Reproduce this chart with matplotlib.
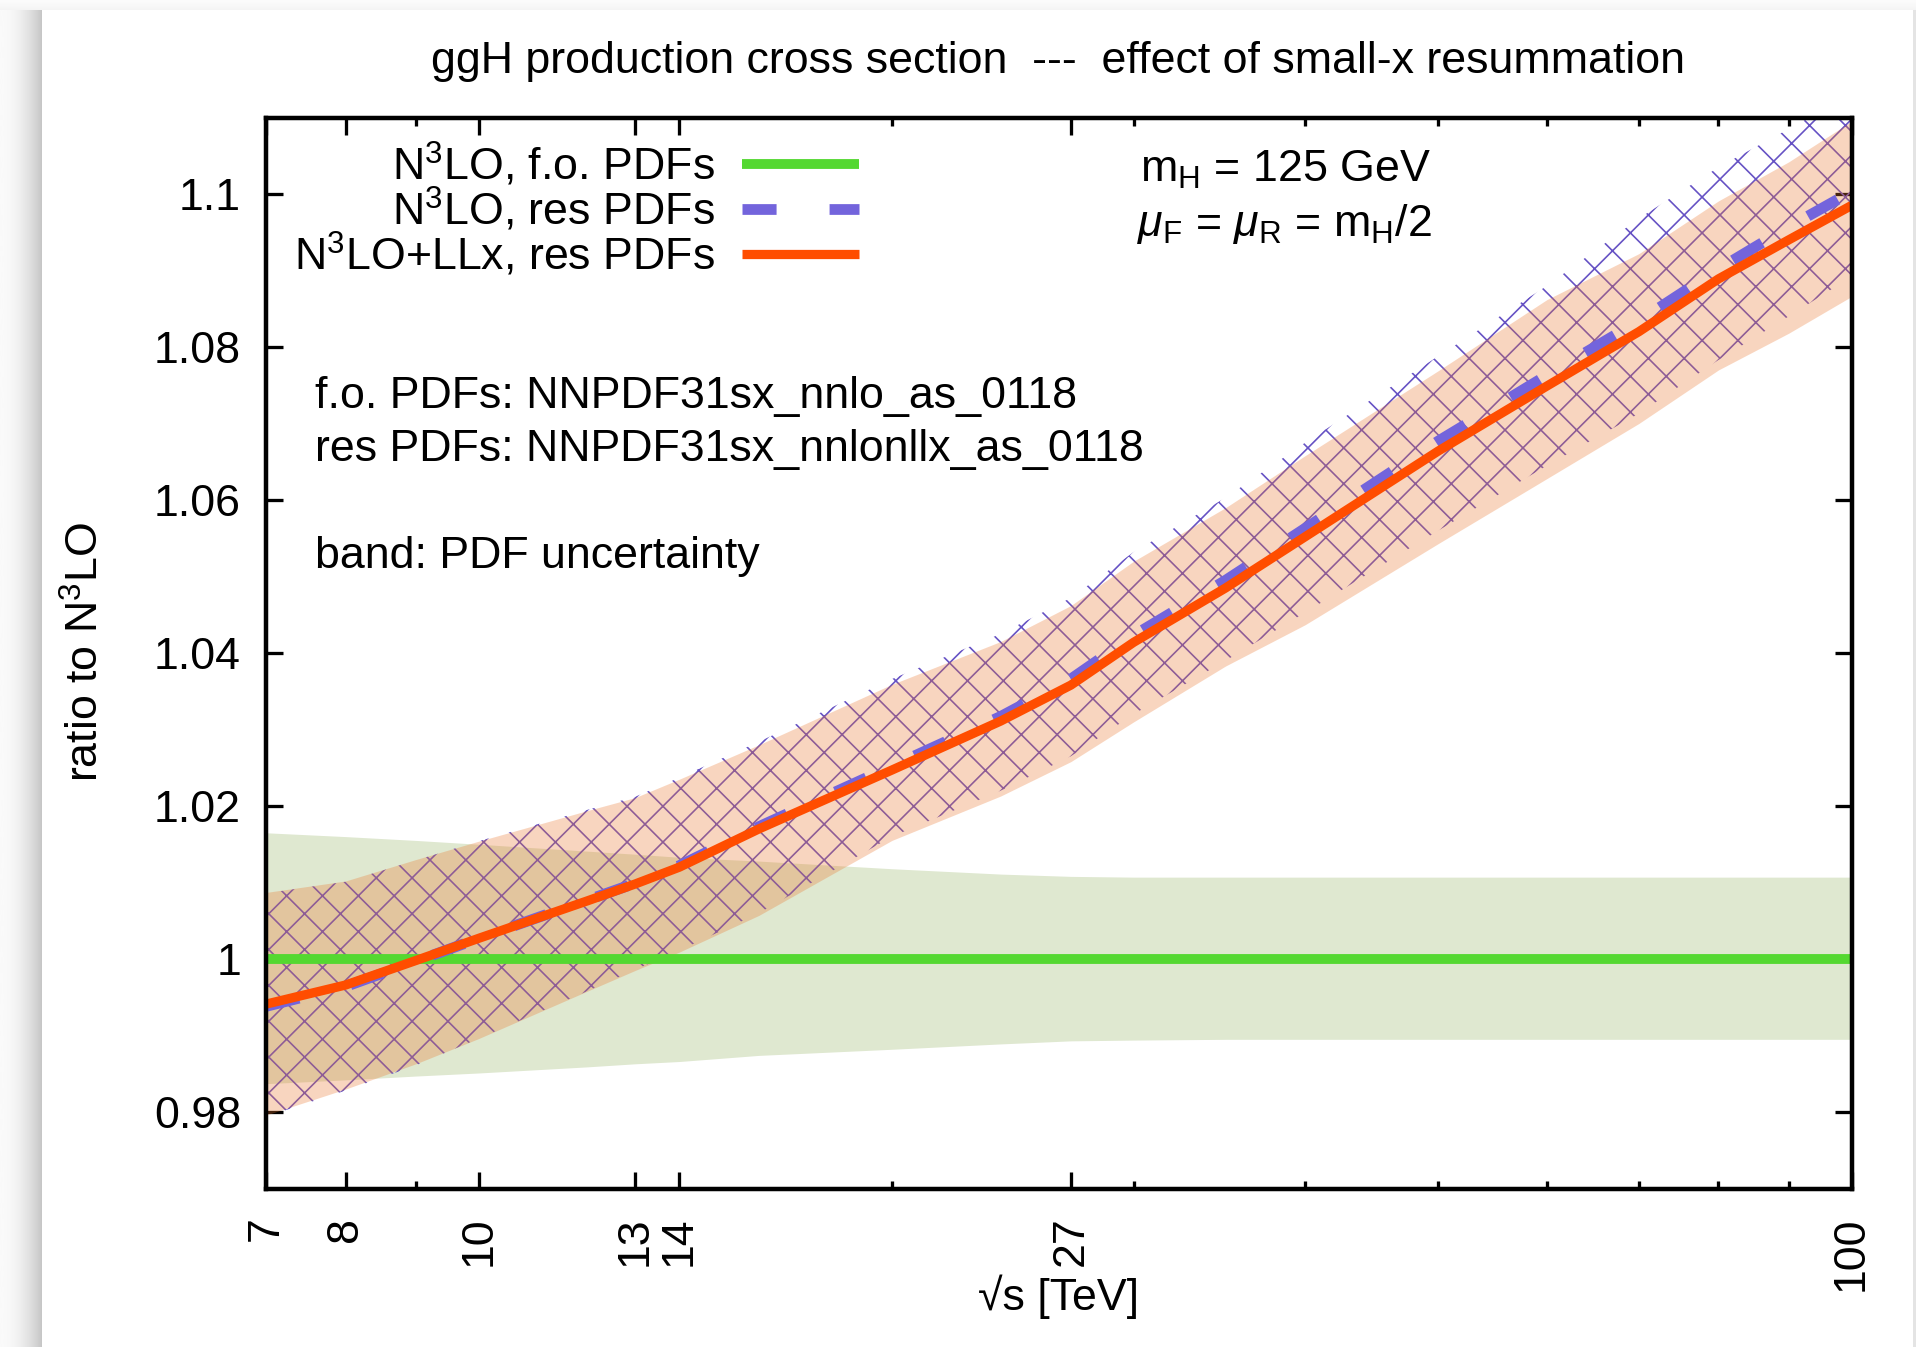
import numpy as np
import matplotlib
matplotlib.use("Agg")
import matplotlib.pyplot as plt
from matplotlib.ticker import FixedLocator, FixedFormatter, NullFormatter
from matplotlib.patches import Rectangle

# ---------------- data ----------------
x_tev = [7, 8, 9, 10, 12, 13, 14, 16, 20, 24, 27, 30, 35, 40, 50, 60, 70, 80, 90, 100]

fo_central = [1.0, 1.0, 1.0, 1.0, 1.0, 1.0, 1.0, 1.0, 1.0, 1.0,
              1.0, 1.0, 1.0, 1.0, 1.0, 1.0, 1.0, 1.0, 1.0, 1.0]
fo_upper = [1.0165, 1.0160, 1.0155, 1.0150, 1.0141, 1.0137, 1.0133, 1.0128, 1.0118, 1.0111,
            1.0108, 1.0107, 1.0107, 1.0107, 1.0107, 1.0107, 1.0107, 1.0107, 1.0107, 1.0107]
fo_lower = [0.9837, 0.9842, 0.9847, 0.9851, 0.9859, 0.9863, 0.9866, 0.9874, 0.9882, 0.9889,
            0.9893, 0.9894, 0.9895, 0.9895, 0.9895, 0.9895, 0.9895, 0.9895, 0.9895, 0.9895]

res_central = [0.9938, 0.9964, 0.9997, 1.0027, 1.0077, 1.0099, 1.0122, 1.0173, 1.0252, 1.0317,
               1.0366, 1.0423, 1.0495, 1.0563, 1.0677, 1.0763, 1.0834, 1.0902, 1.0957, 1.1003]
res_upper = [1.0086, 1.0101, 1.0129, 1.0154, 1.0195, 1.0212, 1.0237, 1.0284, 1.0366, 1.0425,
             1.0472, 1.0532, 1.0603, 1.0675, 1.0788, 1.0880, 1.0968, 1.1035, 1.1085, 1.1130]
res_lower = [0.9794, 0.9828, 0.9861, 0.9896, 0.9958, 0.9986, 1.0011, 1.0060, 1.0160, 1.0220,
             1.0265, 1.0320, 1.0390, 1.0453, 1.0560, 1.0645, 1.0713, 1.0783, 1.0840, 1.0892]

llx_central = [0.9941, 0.9966, 0.9998, 1.0027, 1.0076, 1.0098, 1.0120, 1.0170, 1.0247, 1.0311,
               1.0358, 1.0414, 1.0485, 1.0552, 1.0664, 1.0749, 1.0820, 1.0889, 1.0940, 1.0985]
llx_upper = [1.0087, 1.0102, 1.0130, 1.0154, 1.0194, 1.0211, 1.0235, 1.0280, 1.0359, 1.0415,
             1.0462, 1.0520, 1.0590, 1.0658, 1.0769, 1.0862, 1.0922, 1.0991, 1.1042, 1.1095]
llx_lower = [0.9796, 0.9830, 0.9863, 0.9896, 0.9958, 0.9985, 1.0009, 1.0057, 1.0155, 1.0213,
             1.0258, 1.0310, 1.0383, 1.0437, 1.0543, 1.0628, 1.0700, 1.0770, 1.0818, 1.0866]

series_labels = [r"N$^{3}$LO, f.o. PDFs", r"N$^{3}$LO, res PDFs", r"N$^{3}$LO+LLx, res PDFs"]

x_major_ticks = [7, 8, 10, 13, 14, 27, 100]
x_major_labels = ["7", "8", "10", "13", "14", "27", "100"]
x_minor_ticks = [9, 20, 30, 40, 50, 60, 70, 80, 90]
y_ticks = [0.98, 1.0, 1.02, 1.04, 1.06, 1.08, 1.1]
y_labels = ["0.98", "1", "1.02", "1.04", "1.06", "1.08", "1.1"]

title = "ggH production cross section  ---  effect of small-x resummation"
info_lines = ["f.o. PDFs: NNPDF31sx_nnlo_as_0118",
              "res PDFs: NNPDF31sx_nnlonllx_as_0118",
              "band: PDF uncertainty"]

# ---------------- style ----------------
W, H, DPI = 1916, 1347, 215
FS = 15
plt.rcParams["font.family"] = ["Liberation Sans", "DejaVu Sans"]
plt.rcParams["mathtext.fontset"] = "custom"
plt.rcParams["mathtext.rm"] = "Liberation Sans"
plt.rcParams["mathtext.it"] = "Liberation Sans:italic"
plt.rcParams["mathtext.bf"] = "Liberation Sans:bold"
plt.rcParams["mathtext.default"] = "rm"
plt.rcParams["hatch.linewidth"] = 0.55
plt.rcParams["hatch.color"] = "#6652c4"

C_GREEN = "#54d831"
C_GREEN_BAND = "#dfe8d0"
C_BLUE = "#7364dc"
C_HATCH = "#6652c4"
C_ORANGE = "#ff4d00"
C_ORANGE_BAND = (235 / 255, 118 / 255, 45 / 255)

fig = plt.figure(figsize=(W / DPI, H / DPI), dpi=DPI)
fig.patch.set_facecolor("white")

# page shadow (screenshot decoration)
sh = fig.add_axes([0, 0, 42 / W, 1 - 8 / H])
grad = np.linspace(0, 1, 64) ** 2
sh.imshow((250 - 52 * grad)[None, :], cmap="gray", vmin=0, vmax=255,
          aspect="auto", extent=[0, 1, 0, 1], interpolation="bicubic")
sh.axis("off")
shtop = fig.add_axes([0, 1 - 10 / H, 1, 10 / H])
gtop = np.linspace(0, 1, 16)
shtop.imshow((244 + 8 * gtop)[:, None][::-1], cmap="gray", vmin=0, vmax=255,
             aspect="auto", extent=[0, 1, 0, 1], interpolation="bicubic")
shtop.axis("off")
fig.add_artist(Rectangle((1913 / W, 0), 3 / W, 1 - 10 / H, transform=fig.transFigure,
                         color="#e4e4e4", lw=0))

# ---------------- main axes ----------------
L, R, T, B = 266, 1851.5, 117.5, 1188.5
ax = fig.add_axes([L / W, 1 - B / H, (R - L) / W, (B - T) / H])
ax.set_xscale("log")
ax.set_xlim(7, 100)
ax.set_ylim(0.97, 1.11)

ax.fill_between(x_tev, fo_lower, fo_upper, color=C_GREEN_BAND, lw=0, zorder=1)
ax.fill_between(x_tev, res_lower, res_upper, facecolor="none", edgecolor=C_HATCH,
                hatch="xx", lw=0, zorder=2)
ax.fill_between(x_tev, llx_lower, llx_upper, color=C_ORANGE_BAND, alpha=0.30, lw=0, zorder=3)

l_fo, = ax.plot(x_tev, fo_central, color=C_GREEN, lw=3.3, zorder=4,
                solid_capstyle="butt", label=series_labels[0])
l_res, = ax.plot(x_tev, res_central, color=C_BLUE, lw=3.6, zorder=5,
                 linestyle=(0, (3.17, 4.93)), dash_capstyle="butt", label=series_labels[1])
l_llx, = ax.plot(x_tev, llx_central, color=C_ORANGE, lw=3.1, zorder=6,
                 solid_capstyle="butt", label=series_labels[2])

# ticks
ax.xaxis.set_major_locator(FixedLocator(x_major_ticks))
ax.xaxis.set_major_formatter(FixedFormatter(x_major_labels))
ax.xaxis.set_minor_locator(FixedLocator(x_minor_ticks))
ax.xaxis.set_minor_formatter(NullFormatter())
ax.yaxis.set_major_locator(FixedLocator(y_ticks))
ax.yaxis.set_major_formatter(FixedFormatter(y_labels))
ax.yaxis.set_minor_locator(FixedLocator([]))

px2pt = 72 / DPI
ax.tick_params(which="both", direction="in", top=True, right=True, width=1.1,
               color="black", labelsize=FS)
ax.tick_params(which="major", length=17 * px2pt)
ax.tick_params(which="minor", length=8 * px2pt)
ax.tick_params(axis="y", pad=25 * px2pt)
ax.tick_params(axis="x", pad=28 * px2pt, labelrotation=90)
for s in ax.spines.values():
    s.set_linewidth(1.5)
    s.set_zorder(10)

# axis labels
ax.set_ylabel(r"ratio to N$^{3}$LO", fontsize=FS)
ax.yaxis.label.set(va="center", ha="center", rotation_mode="anchor")
ax.yaxis.set_label_coords((86 - L) / (R - L), (B - 652) / (B - T))
ax.set_xlabel("√s [TeV]", fontsize=FS)
ax.xaxis.label.set(va="baseline")
ax.xaxis.set_label_coords(0.5, (B - 1310) / (B - T))

def axc(X, Y):
    return (X - L) / (R - L), (B - Y) / (B - T)

# annotations
ax.text(*axc(1140, 182.3), r"m$_{\mathrm{H}}$ = 125 GeV", transform=ax.transAxes,
        fontsize=FS, va="baseline", ha="left")
ax.text(*axc(1137, 235.5), r"$\mathit{\mu}_{\mathrm{F}}$ = $\mathit{\mu}_{\mathrm{R}}$ = m$_{\mathrm{H}}$/2",
        transform=ax.transAxes, fontsize=FS, va="baseline", ha="left")
for txt, yb in zip(info_lines, [407.6, 461, 568]):
    ax.text(*axc(315, yb), txt, transform=ax.transAxes, fontsize=FS,
            va="baseline", ha="left")

fig.text(1058 / W, 1 - 72.7 / H, title, fontsize=FS, ha="center", va="baseline")

# legend (gnuplot style: right-aligned text then sample)
leg = ax.legend(handles=[l_fo, l_res, l_llx], loc="upper right",
                bbox_to_anchor=(859 / W, 1 - 141 / H), bbox_transform=fig.transFigure,
                frameon=False, markerfirst=False, fontsize=FS,
                handlelength=117 / (FS / px2pt), handletextpad=27 / (FS / px2pt),
                labelspacing=-0.07, borderpad=0, borderaxespad=0)
for col in leg._legend_handle_box.get_children():
    col.align = "right"
leg.set_zorder(20)

fig.savefig("out.png", dpi=DPI, facecolor="white")
